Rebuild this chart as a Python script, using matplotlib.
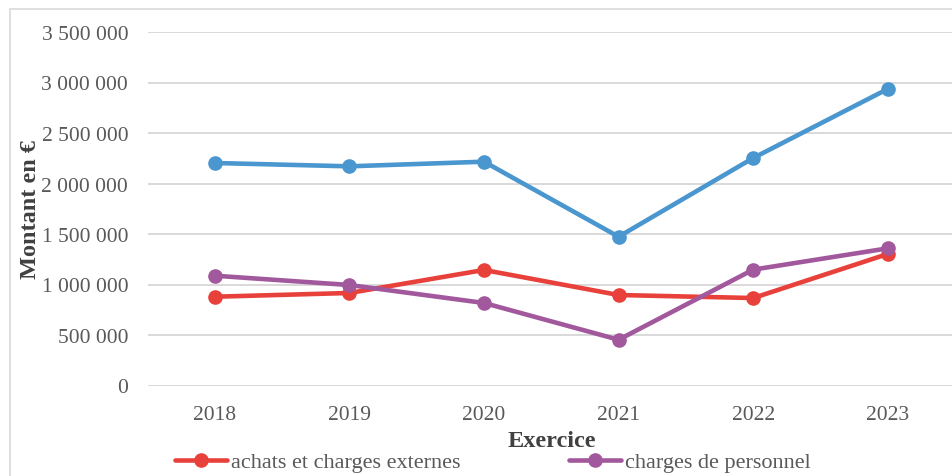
import matplotlib
matplotlib.use("Agg")
import matplotlib.pyplot as plt
from matplotlib.patches import Rectangle
from matplotlib.ticker import FuncFormatter, MultipleLocator

annees = ["2018", "2019", "2020", "2021", "2022", "2023"]
total_charges = [2203000, 2170000, 2216000, 1473000, 2252000, 2936000]
achats_externes = [879000, 916000, 1144000, 896000, 866000, 1302000]
charges_personnel = [1087000, 995000, 817000, 453000, 1147000, 1358000]

plt.rcParams["font.family"] = ["Liberation Serif", "DejaVu Serif"]

fig = plt.figure(figsize=(9.53, 4.77), dpi=100)
ax = fig.add_axes([147.6 / 953, 1 - 386.5 / 477, (955 - 147.6) / 953, (386.5 - 33) / 477])

# cadre gris autour du graphique
fig.patches.append(Rectangle((10 / 953, -0.01), 1.0, 1 - 10 / 477 + 0.01,
                             transform=fig.transFigure, fill=False,
                             edgecolor="#D9D9D9", linewidth=1.2))

x = range(len(annees))
style = dict(linewidth=3.3, marker="o", markersize=9.5, solid_capstyle="round")
ax.plot(x, total_charges, color="#4A96CF", **style)
l1, = ax.plot(x, achats_externes, color="#E8413B", label="achats et charges externes", **style)
l2, = ax.plot(x, charges_personnel, color="#A2589C", label="charges de personnel", **style)

ax.set_xlim(-0.5, len(annees) - 0.5)
ax.set_ylim(0, 3500000)
ax.yaxis.set_major_locator(MultipleLocator(500000))
ax.yaxis.set_major_formatter(FuncFormatter(lambda v, p: f"{v:,.0f}".replace(",", " ")))
ax.set_xticks(list(x))
ax.set_xticklabels(annees)

ax.grid(axis="y", color="#D9D9D9", linewidth=1.4)
ax.set_axisbelow(True)
for s in ax.spines.values():
    s.set_visible(False)
ax.tick_params(axis="both", length=0, labelsize=15.5, labelcolor="#595959")
ax.tick_params(axis="y", pad=14)
ax.tick_params(axis="x", pad=14)

ax.set_ylabel("Montant en €", fontsize=17.5, fontweight="bold", color="#404040")
ax.yaxis.set_label_coords(-107 / (955 - 147.6), 0.5)
ax.set_xlabel("Exercice", fontsize=17.5, fontweight="bold", color="#404040", labelpad=1)
ax.xaxis.set_label_coords(0.5, -(442 - 386.5) / (386.5 - 33))
ax.xaxis.label.set_verticalalignment("center")

fig.legend(handles=[l1, l2], loc="center left", bbox_to_anchor=(175 / 953, 1 - 463 / 477),
           ncol=2, frameon=False, fontsize=16, borderpad=0, borderaxespad=0,
           handlelength=2.35, handletextpad=0.15, columnspacing=4.9, labelcolor="#595959")

fig.savefig("out.png", dpi=100)
